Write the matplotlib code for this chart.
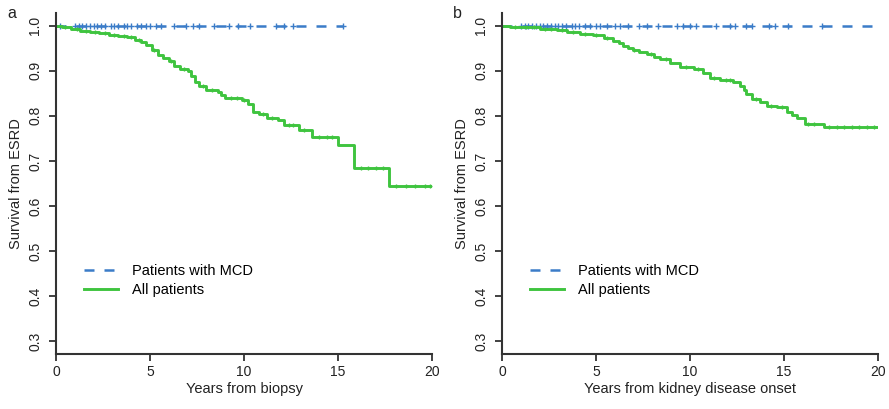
import numpy as np
import matplotlib
matplotlib.use("Agg")
import matplotlib.pyplot as plt

plt.rcParams['font.family'] = ['Liberation Sans', 'DejaVu Sans']

# Panel a : survival from biopsy (all patients, Kaplan-Meier steps)
a_times = [0, 0.3, 0.8, 1.3, 1.8, 2.3, 2.8, 3.3, 3.8, 4.2, 4.5, 4.8, 5.1, 5.4, 5.7,
           6.0, 6.3, 6.6, 7.0, 7.2, 7.4, 7.6, 8.0, 8.6, 8.8, 9.0, 9.9, 10.2, 10.5,
           10.8, 11.2, 11.8, 12.1, 12.9, 13.6, 15.0, 15.85, 17.7, 20.0]
a_surv = [1.0, 0.997, 0.993, 0.989, 0.986, 0.983, 0.979, 0.977, 0.974, 0.969, 0.964,
          0.957, 0.947, 0.936, 0.929, 0.922, 0.910, 0.904, 0.899, 0.889, 0.876, 0.866,
          0.858, 0.853, 0.846, 0.839, 0.836, 0.826, 0.808, 0.805, 0.796, 0.790, 0.779,
          0.768, 0.754, 0.735, 0.684, 0.644, 0.644]
a_cens = [0.5, 1.1, 1.6, 2.1, 2.6, 3.1, 3.6, 4.0, 4.4, 5.2, 6.1, 6.8, 7.8, 8.3, 9.3,
          9.6, 10.0, 11.0, 11.5, 12.4, 12.6, 13.2, 14.0, 14.4, 14.7, 16.2, 16.6, 17.0,
          17.4, 18.1, 18.6, 19.1, 19.6, 19.9]
a_mcd_end = 15.25
a_mcd_cens = [0.2, 1.0, 1.2, 1.4, 1.6, 1.8, 2.0, 2.2, 2.4, 2.6, 2.9, 3.1, 3.3, 3.6,
              3.8, 4.0, 4.3, 4.5, 4.8, 5.0, 5.3, 5.6, 6.3, 6.9, 7.3, 7.6, 8.4, 9.2,
              9.7, 10.3, 11.7, 12.1, 12.6, 15.25]

# Panel b : survival from kidney disease onset
b_times = [0, 0.4, 1.0, 2.0, 2.9, 3.45, 4.15, 4.85, 5.4, 5.9, 6.2, 6.45, 6.7, 6.95,
           7.3, 7.7, 8.1, 8.4, 8.95, 9.45, 10.2, 10.7, 11.05, 11.6, 12.3, 12.65, 12.85,
           13.0, 13.3, 13.7, 14.1, 14.6, 15.15, 15.4, 15.7, 16.1, 17.1, 20.0]
b_surv = [1.0, 0.998, 0.996, 0.993, 0.990, 0.985, 0.982, 0.979, 0.972, 0.966, 0.961,
          0.955, 0.950, 0.946, 0.941, 0.937, 0.931, 0.926, 0.918, 0.909, 0.903, 0.896,
          0.885, 0.879, 0.876, 0.867, 0.858, 0.848, 0.838, 0.830, 0.822, 0.819, 0.808,
          0.802, 0.796, 0.783, 0.776, 0.776]
b_cens = [0.7, 1.3, 1.7, 2.3, 2.6, 3.2, 3.8, 4.4, 5.0, 5.6, 7.0, 7.9, 8.7, 9.8, 10.4,
          11.3, 11.9, 12.1, 13.5, 14.3, 14.9, 16.3, 16.6, 17.4, 17.8, 18.2, 18.6, 19.0,
          19.4, 19.8]
b_mcd_end = 20.0
b_mcd_cens = [1.0, 1.2, 1.4, 1.6, 1.8, 2.0, 2.2, 2.4, 2.6, 2.8, 3.0, 3.2, 3.4, 3.7,
              3.9, 4.1, 4.4, 4.7, 5.0, 5.2, 5.6, 6.0, 6.3, 6.7, 7.3, 7.7, 8.3, 9.3,
              9.6, 10.0, 10.3, 11.4, 12.1, 12.4, 13.0, 13.3, 14.2, 14.5, 15.2, 17.0]

blue = '#3b7cc8'
green = '#3fc43f'
axcol = '#333333'


def step_value(times, surv, t):
    idx = np.searchsorted(times, t, side='right') - 1
    return np.asarray(surv)[idx]


def draw_panel(ax, times, surv, cens, mcd_end, mcd_cens, xlabel, letter):
    ax.plot([0, mcd_end], [1.0, 1.0], color=blue, lw=1.8, dashes=(4, 4),
            label='Patients with MCD')
    ax.plot(mcd_cens, np.ones(len(mcd_cens)), ls='none', marker='+', ms=4,
            mew=1.0, color=blue)
    ax.step(times, surv, where='post', color=green, lw=2.1, label='All patients')
    ax.plot(cens, step_value(times, surv, cens), ls='none', marker='+', ms=3.5,
            mew=1.0, color=green)

    ax.set_xlim(0, 20)
    ax.set_ylim(0.272, 1.028)
    ax.set_xticks([0, 5, 10, 15, 20])
    ax.set_yticks([0.3, 0.4, 0.5, 0.6, 0.7, 0.8, 0.9, 1.0])
    ax.set_yticklabels(['0.3', '0.4', '0.5', '0.6', '0.7', '0.8', '0.9', '1.0'],
                       rotation=90, va='center')
    for s in ['top', 'right']:
        ax.spines[s].set_visible(False)
    for s in ['left', 'bottom']:
        ax.spines[s].set_color(axcol)
        ax.spines[s].set_linewidth(1.5)
    ax.tick_params(direction='out', length=5, width=1.3, color=axcol,
                   labelsize=10, labelcolor='#222222', pad=3)
    ax.tick_params(axis='y', pad=5)
    ax.set_xlabel(xlabel, fontsize=10.5, color='#222222', labelpad=2)
    ax.set_ylabel('Survival from ESRD', fontsize=10.5, color='#222222', labelpad=4)
    ax.legend(loc='upper left', bbox_to_anchor=(0.075, 0.265), frameon=False,
              fontsize=10.5, handlelength=2.3, handletextpad=1.0,
              labelspacing=0.35, borderpad=0, borderaxespad=0)
    ax.text(-0.13, 1.0, letter, transform=ax.transAxes, fontsize=11.5,
            va='center', ha='left', color='#222222')


fig = plt.figure(figsize=(8.89, 4.09), dpi=100)
ax1 = fig.add_axes([0.063, 0.1345, 0.423, 0.8337])
ax2 = fig.add_axes([0.5647, 0.1345, 0.423, 0.8337])

draw_panel(ax1, a_times, a_surv, a_cens, a_mcd_end, a_mcd_cens,
           'Years from biopsy', 'a')
draw_panel(ax2, b_times, b_surv, b_cens, b_mcd_end, b_mcd_cens,
           'Years from kidney disease onset', 'b')

fig.savefig('out.png', dpi=100)
